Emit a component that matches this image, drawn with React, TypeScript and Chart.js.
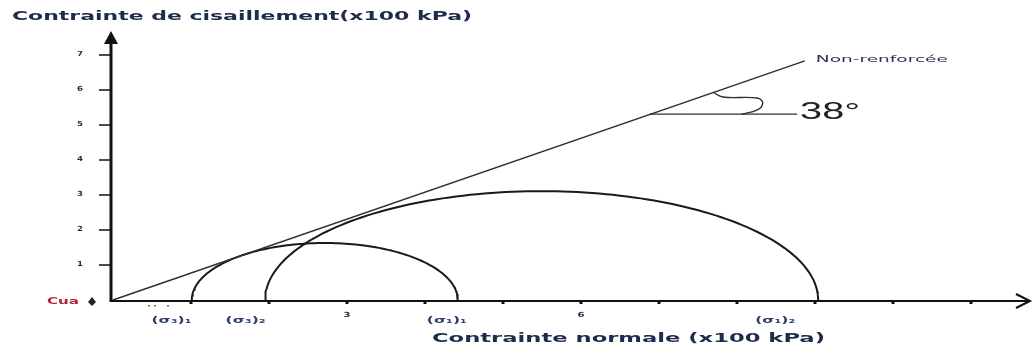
import React, { useEffect, useRef } from 'react';
import { Chart, registerables } from 'chart.js';

Chart.register(...registerables);

// ---- data (units: x100 kPa) ----
const envelopeX = [0, 8.87];
const envelopeY = [0, 6.83];
const sigma3 = [1.01, 1.95];
const sigma1 = [4.42, 9.04];
const tauTop = [1.63, 3.11];
const refLineX = [6.88, 8.77];
const refLineY = [5.31, 5.31];
const markX = [7.69, 7.82, 8.26, 8.33, 8.26, 8.06];
const markY = [5.94, 5.8, 5.77, 5.63, 5.43, 5.31];
const yTickValues = [1, 2, 3, 4, 5, 6, 7];
const yTickLabels = ['1', '2', '3', '4', '5', '6', '7'];
const xTickValues = [1, 2, 3, 4, 5, 6, 7, 8, 9, 10, 11];
const xNumValues = [3, 6];
const xNumLabels = ['3', '6'];
const sigmaLabelValues = [0.75, 1.7, 4.28, 8.49];
const sigmaLabels = ['(σ₃)₁', '(σ₃)₂', '(σ₁)₁', '(σ₁)₂'];
const angleLabel = '38°';
const envelopeLabel = 'Non-renforcée';
const yTitle = 'Contrainte de cisaillement(x100 kPa)';
const xTitle = 'Contrainte normale (x100 kPa)';
const cohesionLabel = 'Cua';

const TEXT = '#1e2c4c';

function halfCircle(s3: number, s1: number, h: number) {
  const c = (s1 + s3) / 2;
  const r = (s1 - s3) / 2;
  const pts: { x: number; y: number }[] = [];
  const n = 120;
  for (let i = 0; i <= n; i++) {
    const t = Math.PI - (Math.PI * i) / n;
    pts.push({ x: c + r * Math.cos(t), y: h * Math.sin(t) });
  }
  return pts;
}

function stretchText(
  ctx: CanvasRenderingContext2D,
  text: string,
  x: number,
  y: number,
  font: string,
  color: string,
  width: number,
  align: 'left' | 'center' | 'right'
) {
  ctx.save();
  ctx.font = font;
  ctx.fillStyle = color;
  ctx.textBaseline = 'middle';
  ctx.textAlign = 'left';
  const m = ctx.measureText(text).width || 1;
  const sx = width / m;
  const left = align === 'center' ? x - width / 2 : align === 'right' ? x - width : x;
  ctx.translate(left, y);
  ctx.scale(sx, 1);
  ctx.fillText(text, 0, 0);
  ctx.restore();
}

const axesPlugin = {
  id: 'mohrAxes',
  afterDatasetsDraw(chart: any) {
    const ctx: CanvasRenderingContext2D = chart.ctx;
    const xs = chart.scales.x;
    const ys = chart.scales.y;
    const x0 = xs.getPixelForValue(0);
    const y0 = ys.getPixelForValue(0);
    const ax = x0 - 2;
    ctx.save();
    ctx.strokeStyle = '#111';
    ctx.fillStyle = '#111';
    // y axis
    ctx.lineWidth = 3;
    ctx.beginPath();
    ctx.moveTo(ax, y0 + 2);
    ctx.lineTo(ax, 42);
    ctx.stroke();
    ctx.beginPath();
    ctx.moveTo(ax, 31);
    ctx.lineTo(ax - 7, 44);
    ctx.lineTo(ax + 7, 44);
    ctx.closePath();
    ctx.fill();
    // x axis
    ctx.lineWidth = 2;
    ctx.beginPath();
    ctx.moveTo(ax - 1, y0 + 1);
    ctx.lineTo(1029, y0 + 1);
    ctx.stroke();
    ctx.beginPath();
    ctx.moveTo(1016, y0 - 6);
    ctx.lineTo(1030, y0 + 1);
    ctx.lineTo(1016, y0 + 8);
    ctx.stroke();
    // y ticks
    ctx.lineWidth = 1.5;
    yTickValues.forEach((v, i) => {
      const py = ys.getPixelForValue(v);
      ctx.beginPath();
      ctx.moveTo(ax - 12, py);
      ctx.lineTo(ax, py);
      ctx.stroke();
      stretchText(ctx, yTickLabels[i], x0 - 33, py - 1, 'bold 7px "DejaVu Sans"', TEXT, 6, 'center');
    });
    // x ticks
    xTickValues.forEach((v) => {
      const px = xs.getPixelForValue(v);
      ctx.fillStyle = '#111';
      ctx.fillRect(px - 1.5, y0, 3, 4);
    });
    xNumValues.forEach((v, i) => {
      const px = xs.getPixelForValue(v);
      stretchText(ctx, xNumLabels[i], px, y0 + 15, 'bold 7px "DejaVu Sans"', TEXT, 7, 'center');
    });
    sigmaLabelValues.forEach((v, i) => {
      const px = xs.getPixelForValue(v);
      stretchText(ctx, sigmaLabels[i], px, y0 + 21, 'bold 8px "DejaVu Sans"', '#2d3f6a', 40, 'center');
    });
    // tiny marks under the axis
    ctx.fillStyle = '#666';
    ctx.fillRect(148, y0 + 5, 2, 1.5);
    ctx.fillRect(154, y0 + 5, 2, 1.5);
    ctx.fillRect(167, y0 + 5, 2, 1.5);
    // cohesion label + diamond
    stretchText(ctx, cohesionLabel, 47, y0 + 2, 'bold 9px "DejaVu Sans"', '#b3223c', 32, 'left');
    ctx.fillStyle = '#222';
    ctx.beginPath();
    ctx.moveTo(92, y0 - 3);
    ctx.lineTo(96, y0 + 2);
    ctx.lineTo(92, y0 + 6);
    ctx.lineTo(88, y0 + 2);
    ctx.closePath();
    ctx.fill();
    // titles and annotations
    stretchText(ctx, yTitle, 12, 17, 'bold 12px "DejaVu Sans"', TEXT, 460, 'left');
    stretchText(ctx, xTitle, 432, 339, 'bold 13px "DejaVu Sans"', TEXT, 393, 'left');
    const lx = xs.getPixelForValue(envelopeX[1]);
    const ly = ys.getPixelForValue(envelopeY[1]);
    stretchText(ctx, envelopeLabel, lx + 11, ly - 1, '9px "DejaVu Sans"', '#2a3350', 132, 'left');
    const rx = xs.getPixelForValue(refLineX[1]);
    const ry = ys.getPixelForValue(refLineY[1]);
    stretchText(ctx, angleLabel, rx + 3, ry - 2, '24px "Liberation Sans"', '#222', 60, 'left');
    ctx.restore();
  },
};

export default function App() {
  const ref = useRef<HTMLCanvasElement | null>(null);
  useEffect(() => {
    if (!ref.current) return;
    const line = (data: { x: number; y: number }[], color: string, width: number, tension = 0) => ({
      data,
      showLine: true,
      borderColor: color,
      backgroundColor: color,
      borderWidth: width,
      pointRadius: 0,
      pointHoverRadius: 0,
      tension,
      clip: false as any,
      fill: false,
    });
    const chart = new Chart(ref.current, {
      type: 'scatter',
      data: {
        datasets: [
          line(envelopeX.map((x, i) => ({ x, y: envelopeY[i] })), '#2e2e2e', 1.4),
          line(halfCircle(sigma3[0], sigma1[0], tauTop[0]), '#1a1a1a', 2),
          line(halfCircle(sigma3[1], sigma1[1], tauTop[1]), '#1a1a1a', 2),
          line(refLineX.map((x, i) => ({ x, y: refLineY[i] })), '#2e2e2e', 1.4),
          line(markX.map((x, i) => ({ x, y: markY[i] })), '#2e2e2e', 1.4, 0.4),
        ],
      },
      options: {
        responsive: false,
        animation: false,
        devicePixelRatio: 1,
        layout: { padding: { left: 113, right: 0, top: 0, bottom: 49 } },
        plugins: { legend: { display: false }, tooltip: { enabled: false } },
        events: [],
        scales: {
          x: { type: 'linear', min: 0, max: 920 / 78, display: false },
          y: { type: 'linear', min: 0, max: 300 / 35, display: false },
        },
      },
      plugins: [axesPlugin],
    });
    return () => chart.destroy();
  }, []);
  return (
    <canvas
      ref={ref}
      width={1033}
      height={349}
      style={{ position: 'fixed', left: 0, top: 0, width: 1033, height: 349, display: 'block', background: '#fff' }}
    />
  );
}
